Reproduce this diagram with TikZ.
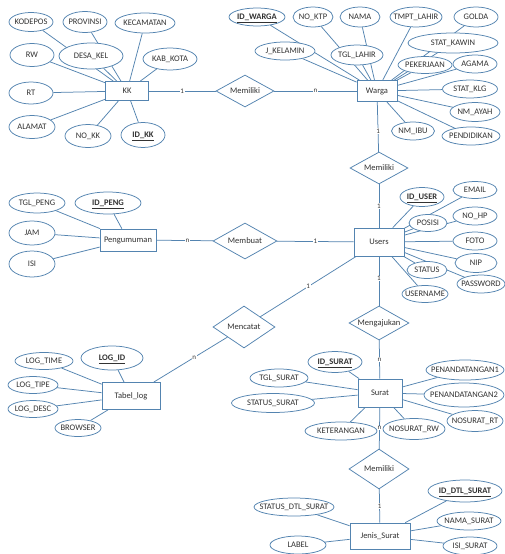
\documentclass[tikz,border=0pt]{standalone}
\usepackage{fontspec}
\setmainfont{Carlito}
\usetikzlibrary{shapes.geometric}
\definecolor{erblue}{RGB}{84,132,176}
\definecolor{ertext}{RGB}{50,50,50}
\pgfdeclarelayer{bg}
\pgfsetlayers{bg,main}
\tikzset{
  base/.style={draw=erblue, line width=0.75pt, fill=white, inner sep=0pt,
    text=ertext, font=\fontsize{8.5}{9}\selectfont, text height=5.5pt, text depth=0pt},
  entity/.style={base, rectangle},
  attr/.style={base, ellipse},
  rel/.style={base, diamond},
  conn/.style={draw=erblue, line width=0.75pt},
  card/.style={fill=white, inner sep=0.6pt, text=ertext, font=\fontsize{7}{8}\selectfont}
}
% attribute ellipse: name, x, y, width, height, label
\newcommand{\erattr}[6]{\node[attr, minimum width=#4pt, minimum height=#5pt] (#1) at (#2,#3) {\makebox[0pt]{#6}};}
\newcommand{\erkey}[1]{\textbf{\underline{#1}}}
\begin{document}
\begin{tikzpicture}[x=1pt,y=-1pt]
\useasboundingbox (0,0) rectangle (504,554);

% ---------- entities ----------
\node[entity, minimum width=43pt, minimum height=19pt] (kk) at (127,91) {KK};
\node[entity, minimum width=40pt, minimum height=21pt] (warga) at (377,91) {Warga};
\node[entity, minimum width=50pt, minimum height=28pt] (users) at (379,242) {Users};
\node[entity, minimum width=56pt, minimum height=22pt] (peng) at (128,240) {\makebox[0pt]{Pengumuman}};
\node[entity, minimum width=58pt, minimum height=27pt] (tlog) at (131,396) {Tabel\_log};
\node[entity, minimum width=44pt, minimum height=28pt] (surat) at (380,393) {Surat};
\node[entity, minimum width=60pt, minimum height=26pt] (jenis) at (380,536) {Jenis\_Surat};

% ---------- relationships ----------
\node[rel, minimum width=58pt, minimum height=32pt] (mem1) at (245,91) {\makebox[0pt]{Memiliki}};
\node[rel, minimum width=58pt, minimum height=32pt] (mem2) at (379,168) {\makebox[0pt]{Memiliki}};
\node[rel, minimum width=64pt, minimum height=36pt] (membuat) at (245,241) {\makebox[0pt]{Membuat}};
\node[rel, minimum width=62pt, minimum height=42pt] (mencatat) at (244,327) {\makebox[0pt]{Mencatat}};
\node[rel, minimum width=60pt, minimum height=34pt] (mengajukan) at (379,323) {\makebox[0pt]{Mengajukan}};
\node[rel, minimum width=60pt, minimum height=40pt] (mem3) at (379,469) {\makebox[0pt]{Memiliki}};

% ---------- KK attributes ----------
\erattr{kodepos}{31}{22}{44}{19}{KODEPOS}
\erattr{provinsi}{85}{22}{44}{21}{PROVINSI}
\erattr{kecamatan}{145}{23}{60}{20}{KECAMATAN}
\erattr{desakel}{91}{56}{64}{26}{DESA\_KEL}
\erattr{rw}{32}{55}{44}{23}{RW}
\erattr{kabkota}{170}{59}{54}{22}{KAB\_KOTA}
\erattr{rt}{31}{93}{44}{22}{RT}
\erattr{alamat}{32}{127}{46}{23}{ALAMAT}
\erattr{nokk}{88}{136}{46}{23}{NO\_KK}
\erattr{idkk}{143}{135}{44}{25}{\erkey{ID\_KK}}

% ---------- Warga attributes ----------
\erattr{idwarga}{257}{17}{56}{18}{\erkey{ID\_WARGA}}
\erattr{noktp}{313}{17}{40}{20}{NO\_KTP}
\erattr{nama}{360}{17}{40}{20}{NAMA}
\erattr{tmptlahir}{416}{17}{52}{20}{TMPT\_LAHIR}
\erattr{golda}{476}{17}{44}{20}{GOLDA}
\erattr{jkelamin}{285}{51}{60}{18}{J\_KELAMIN}
\erattr{tgllahir}{357}{55}{52}{20}{TGL\_LAHIR}
\erattr{statkawin}{453}{43}{90}{20}{STAT\_KAWIN}
\erattr{pekerjaan}{425}{65}{54}{17}{PEKERJAAN}
\erattr{agama}{475}{64}{44}{18}{AGAMA}
\erattr{statklg}{470}{89}{55}{18}{STAT\_KLG}
\erattr{nmayah}{475}{112}{50}{19}{NM\_AYAH}
\erattr{pendidikan}{471}{136}{58}{18}{PENDIDIKAN}
\erattr{nmibu}{413}{131}{43}{18}{NM\_IBU}

% ---------- Pengumuman attributes ----------
\erattr{tglpeng}{37}{203}{56}{20}{TGL\_PENG}
\erattr{idpeng}{108}{203}{66}{22}{\erkey{ID\_PENG}}
\erattr{jam}{32}{233}{46}{24}{JAM}
\erattr{isi}{32}{264}{46}{26}{ISI}

% ---------- Users attributes ----------
\erattr{iduser}{422}{197}{44}{19}{\erkey{ID\_USER}}
\erattr{email}{475}{190}{44}{17}{EMAIL}
\erattr{posisi}{428}{223}{38}{17}{POSISI}
\erattr{nohp}{475}{216}{44}{18}{NO\_HP}
\erattr{foto}{475}{241}{44}{18}{FOTO}
\erattr{nip}{476}{263}{42}{19}{NIP}
\erattr{status}{427}{270}{40}{17}{STATUS}
\erattr{password}{481}{284}{48}{18}{PASSWORD}
\erattr{username}{425}{294}{46}{17}{USERNAME}

% ---------- Tabel_log attributes ----------
\erattr{logid}{112}{358}{62}{24}{\erkey{LOG\_ID}}
\erattr{logtime}{44}{361}{58}{17}{LOG\_TIME}
\erattr{logtipe}{33}{385}{50}{17}{LOG\_TIPE}
\erattr{logdesc}{33}{409}{50}{17}{LOG\_DESC}
\erattr{browser}{78}{428}{46}{17}{BROWSER}

% ---------- Surat attributes ----------
\erattr{idsurat}{335}{362}{54}{21}{\erkey{ID\_SURAT}}
\erattr{tglsurat}{279}{378}{58}{18}{TGL\_SURAT}
\erattr{statussurat}{273}{403}{83}{19}{STATUS\_SURAT}
\erattr{keterangan}{341}{431}{72}{18}{KETERANGAN}
\erattr{nosuratrw}{414}{429}{62}{21}{NOSURAT\_RW}
\erattr{nosuratrt}{475}{421}{56}{21}{NOSURAT\_RT}
\erattr{penanda1}{465}{370}{78}{20}{PENANDATANGAN1}
\erattr{penanda2}{464}{395}{80}{24}{PENANDATANGAN2}

% ---------- Jenis_Surat attributes ----------
\erattr{statusdtl}{294}{507}{80}{18}{STATUS\_DTL\_SURAT}
\erattr{label}{298}{545}{56}{18}{LABEL}
\erattr{iddtl}{465}{491}{74}{22}{\erkey{ID\_DTL\_SURAT}}
\erattr{namasurat}{469}{521}{64}{18}{NAMA\_SURAT}
\erattr{isisurat}{470}{546}{54}{18}{ISI\_SURAT}

% ---------- paper and connectors (behind the shapes) ----------
\begin{pgfonlayer}{bg}
  \fill[white] (0,0) rectangle (504,554);
  \foreach \a in {kodepos,provinsi,kecamatan,desakel,rw,kabkota,rt,alamat,nokk,idkk}
    \draw[conn] (\a) -- (kk);
  \foreach \a in {idwarga,noktp,nama,tmptlahir,golda,jkelamin,tgllahir,statkawin,
                  pekerjaan,agama,statklg,nmayah,pendidikan,nmibu}
    \draw[conn] (\a) -- (warga);
  \foreach \a in {tglpeng,idpeng,jam,isi}
    \draw[conn] (\a) -- (peng);
  \foreach \a in {iduser,email,posisi,nohp,foto,nip,status,password,username}
    \draw[conn] (\a) -- (users);
  \foreach \a in {logid,logtime,logtipe,logdesc,browser}
    \draw[conn] (\a) -- (tlog);
  \foreach \a in {idsurat,tglsurat,statussurat,keterangan,nosuratrw,nosuratrt,penanda1,penanda2}
    \draw[conn] (\a) -- (surat);
  \foreach \a in {statusdtl,label,iddtl,namasurat,isisurat}
    \draw[conn] (\a) -- (jenis);

  \draw[conn] (kk) -- node[card] {1} (mem1);
  \draw[conn] (mem1) -- node[card] {n} (warga);
  \draw[conn] (warga) -- node[card, pos=0.58] {1} (mem2);
  \draw[conn] (mem2) -- node[card] {1} (users);
  \draw[conn] (peng) -- node[card, pos=0.55] {n} (membuat);
  \draw[conn] (membuat) -- node[card] {1} (users);
  \draw[conn] (users) -- node[card] {1} (mencatat);
  \draw[conn] (mencatat) -- node[card, pos=0.45] {n} (tlog);
  \draw[conn] (users) -- node[card, pos=0.45] {1} (mengajukan);
  \draw[conn] (mengajukan) -- node[card] {n} (surat);
  \draw[conn] (surat) -- node[card] {n} (mem3);
  \draw[conn] (mem3) -- node[card] {1} (jenis);
\end{pgfonlayer}
\end{tikzpicture}
\end{document}
